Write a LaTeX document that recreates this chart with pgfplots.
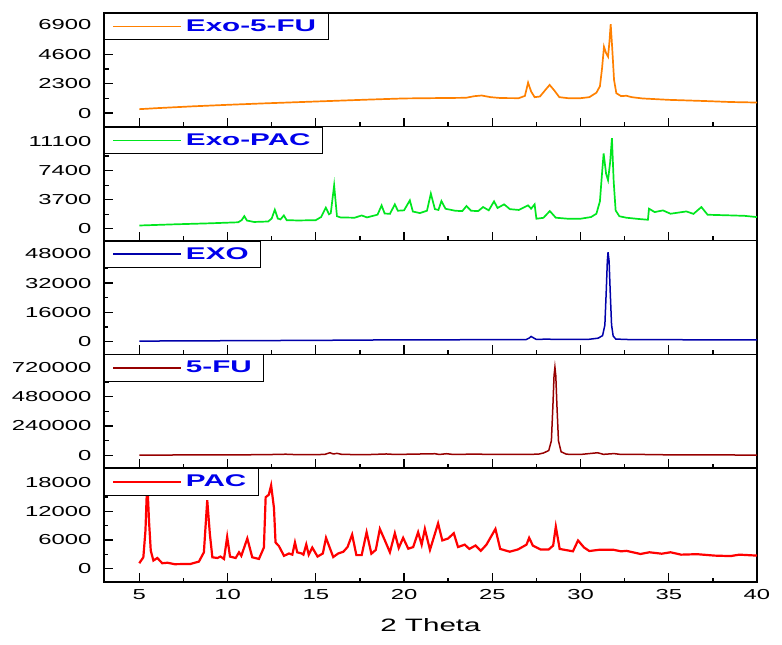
\documentclass[border=0pt]{standalone}
\usepackage{pgfplots}
\pgfplotsset{compat=1.18}
\usepackage{fontspec}
\setmainfont{Liberation Sans}[FakeStretch=1.65]
\newfontfamily\legfont{Liberation Sans}[FakeStretch=1.75]
\definecolor{corange}{RGB}{255,128,0}
\definecolor{cgreen}{RGB}{0,230,30}
\definecolor{cnavy}{RGB}{0,0,170}
\definecolor{cdred}{RGB}{150,0,0}
\definecolor{cred}{RGB}{255,0,0}
\definecolor{legblue}{RGB}{0,0,235}

\pgfplotstableread{
x y
5 310
6 390
8 530
10 650
12 760
14 860
16 960
18 1060
20 1150
22 1180
23.5 1200
24.0 1330
24.4 1380
24.9 1250
25.5 1180
26.5 1170
26.85 1350
27.03 2390
27.2 1700
27.4 1250
27.7 1300
28.0 1800
28.25 2210
28.5 1800
28.8 1250
29.3 1170
30.0 1170
30.5 1250
30.9 1600
31.1 2100
31.22 3500
31.33 5200
31.45 4700
31.56 4420
31.64 5600
31.71 6970
31.8 5000
31.9 2600
32.03 1560
32.3 1330
32.6 1360
32.9 1250
33.5 1150
35 1040
37 950
38.5 870
40 830
}\exofu

\pgfplotstableread{
x y
5 420
7 570
9 700
10.6 830
10.8 1100
10.95 1610
11.1 1050
11.5 870
12.3 930
12.5 1300
12.68 2430
12.85 1300
13.0 1200
13.19 1700
13.35 1100
14 1060
15.0 1100
15.3 1500
15.57 2690
15.75 1850
15.85 2000
16.04 5540
16.2 1600
16.4 1450
17.2 1410
17.6 1700
17.9 1450
18.5 1800
18.73 2980
18.9 1950
19.2 1900
19.48 3110
19.65 2300
20.0 2350
20.33 3620
20.5 2200
20.9 2000
21.3 2300
21.52 4480
21.75 2500
21.95 2400
22.12 3530
22.35 2550
22.9 2300
23.3 2250
23.54 2900
23.8 2300
24.2 2250
24.48 2770
24.8 2350
25.1 3490
25.3 2650
25.67 3110
26.0 2500
26.5 2400
27.03 2980
27.2 2560
27.4 3110
27.5 1280
27.9 1400
28.26 2260
28.6 1410
29.3 1280
30.0 1280
30.6 1500
30.9 1920
31.1 3500
31.2 6500
31.31 9600
31.45 7000
31.56 6180
31.68 8500
31.78 11520
31.88 6000
31.99 2340
32.2 1600
32.6 1410
33.3 1250
33.82 1150
33.88 2560
34.2 2130
34.67 2340
35.1 1920
36.0 2210
36.4 1900
36.85 2770
37.2 1790
38.6 1700
39.3 1650
40 1490
}\exopac

\pgfplotstableread{
x y
5 200
10 400
15 600
20 900
25 950
26.9 950
27.1 1900
27.2 2740
27.35 1900
27.5 1100
28.0 1250
29 1100
30.5 1200
31.0 1800
31.25 3200
31.38 9000
31.46 28000
31.52 44000
31.56 48880
31.62 44000
31.68 28000
31.76 9000
31.85 3000
32.0 1300
33 950
35 950
38 880
40 820
}\exo

\pgfplotstableread{
x y
5 3000
8 4000
12 6000
13.3 10000
14 6000
15.5 8000
15.8 22000
16.0 12000
16.2 17000
16.5 8000
18 7000
19.0 12000
19.5 8000
21.75 14000
22.0 8000
22.4 14000
22.8 8000
24.0 11000
25 8000
26.7 9000
27.6 10000
27.9 20000
28.2 40000
28.35 120000
28.44 420000
28.5 650000
28.55 719000
28.6 650000
28.66 420000
28.75 120000
28.9 30000
29.2 10000
30.0 8000
30.97 22000
31.3 9000
31.9 15000
32.3 8000
33 9000
35 5000
38 4000
40 3000
}\fu

\pgfplotstableread{
x y
5.0 1100
5.23 2350
5.35 8000
5.45 18500
5.55 10000
5.65 3740
5.8 1660
6.02 2200
6.3 1100
6.6 1200
7.0 900
7.9 950
8.38 1450
8.66 3390
8.85 14320
9.0 7180
9.14 2350
9.43 2200
9.6 2500
9.8 2000
9.98 6640
10.14 2500
10.46 2200
10.65 3390
10.78 2650
11.12 6300
11.4 2350
11.78 2000
12.06 4400
12.16 14950
12.34 15500
12.47 17440
12.63 12730
12.72 5460
12.91 4700
13.2 2650
13.48 3150
13.67 2900
13.82 5460
13.95 3390
14.2 3150
14.3 2900
14.46 5040
14.6 2900
14.8 4400
15.1 2500
15.4 3150
15.58 6430
15.99 2400
16.27 3150
16.56 3500
16.8 4500
17.06 7120
17.3 2800
17.6 2800
17.88 7600
18.15 3100
18.4 3900
18.63 8300
18.9 6020
19.2 3400
19.48 7400
19.7 4300
19.95 6430
20.24 4150
20.52 4500
20.8 7600
21.0 5000
21.18 8300
21.47 3900
21.93 9470
22.17 5880
22.5 6300
22.82 7400
23.06 4500
23.44 5000
23.7 4100
24.05 4820
24.35 3700
24.67 5000
25.18 8300
25.45 4100
25.99 3520
26.46 4000
26.94 5000
27.09 6430
27.3 4800
27.73 4000
28.2 4000
28.45 4800
28.6 8780
28.82 4100
29.57 3600
29.86 5880
30.2 4400
30.5 3660
31.1 3940
31.85 3940
32.3 3600
32.6 3700
33.4 3040
33.9 3400
34.6 3100
35.1 3400
35.7 2900
36.6 3000
37.6 2700
38.5 2600
39.0 2900
40 2700
}\pac

\pgfplotsset{panel/.style={
  scale only axis, width=653bp, height=113.8bp,
  xmin=3, xmax=40, anchor=south west,
  axis line style={line width=1.4bp},
  tick style={line width=1.3bp, black},
  major tick length=9bp, minor tick length=4.5bp,
  xtick={5,10,...,40}, minor x tick num=1, minor y tick num=1,
  tick pos=left, tick align=inside,
  scaled y ticks=false,
  /pgf/number format/.cd, fixed, 1000 sep={}, assume math mode=true, /pgfplots/.cd,
  ticklabel style={font=\fontsize{14.5}{16}\selectfont},
  yticklabel style={xshift=-9bp},
  xticklabel style={yshift=-4bp},
  legend style={at={(0,1)}, anchor=north west, draw=black, line width=0.8bp,
    fill=white, font=\legfont\fontsize{17}{19}\bfseries\selectfont, text=legblue,
    inner xsep=8bp, inner ysep=2bp,
    nodes={inner xsep=4bp, inner ysep=4.5bp}},
  legend image code/.code={\draw[#1, line width=1.6bp] (0bp,0bp) -- (68bp,0bp);},
}}

\begin{document}
\begin{tikzpicture}
\useasboundingbox (-104bp,-63bp) rectangle (678bp,582bp);
% Exo-5-FU
\begin{axis}[panel, at={(0bp,455.2bp)}, ymin=-1070, ymax=7840,
  ytick={0,2300,4600,6900}, xticklabels={}]
\addplot[corange, line width=1.7bp] table[x=x,y=y] {\exofu};
\addlegendentry{Exo-5-FU}
\end{axis}
% Exo-PAC
\begin{axis}[panel, at={(0bp,341.4bp)}, ymin=-1500, ymax=12980,
  ytick={0,3700,7400,11100}, xticklabels={}]
\addplot[cgreen, line width=1.7bp] table[x=x,y=y] {\exopac};
\addlegendentry{Exo-PAC}
\end{axis}
% EXO
\begin{axis}[panel, at={(0bp,227.6bp)}, ymin=-7100, ymax=55300,
  ytick={0,16000,32000,48000}, xticklabels={}]
\addplot[cnavy, line width=1.5bp] table[x=x,y=y] {\exo};
\addlegendentry{EXO}
\end{axis}
% 5-FU
\begin{axis}[panel, at={(0bp,113.8bp)}, ymin=-104000, ymax=824000,
  ytick={0,240000,480000,720000}, xticklabels={}]
\addplot[cdred, line width=1.5bp] table[x=x,y=y] {\fu};
\addlegendentry{5-FU}
\end{axis}
% PAC
\begin{axis}[panel, at={(0bp,0bp)}, ymin=-2840, ymax=21050,
  ytick={0,6000,12000,18000},
  xlabel={2 Theta}, xlabel style={font=\fontsize{18}{21}\selectfont, yshift=-12bp}]
\addplot[cred, line width=2.2bp] table[x=x,y=y] {\pac};
\addlegendentry{PAC}
\end{axis}
\end{tikzpicture}
\end{document}
